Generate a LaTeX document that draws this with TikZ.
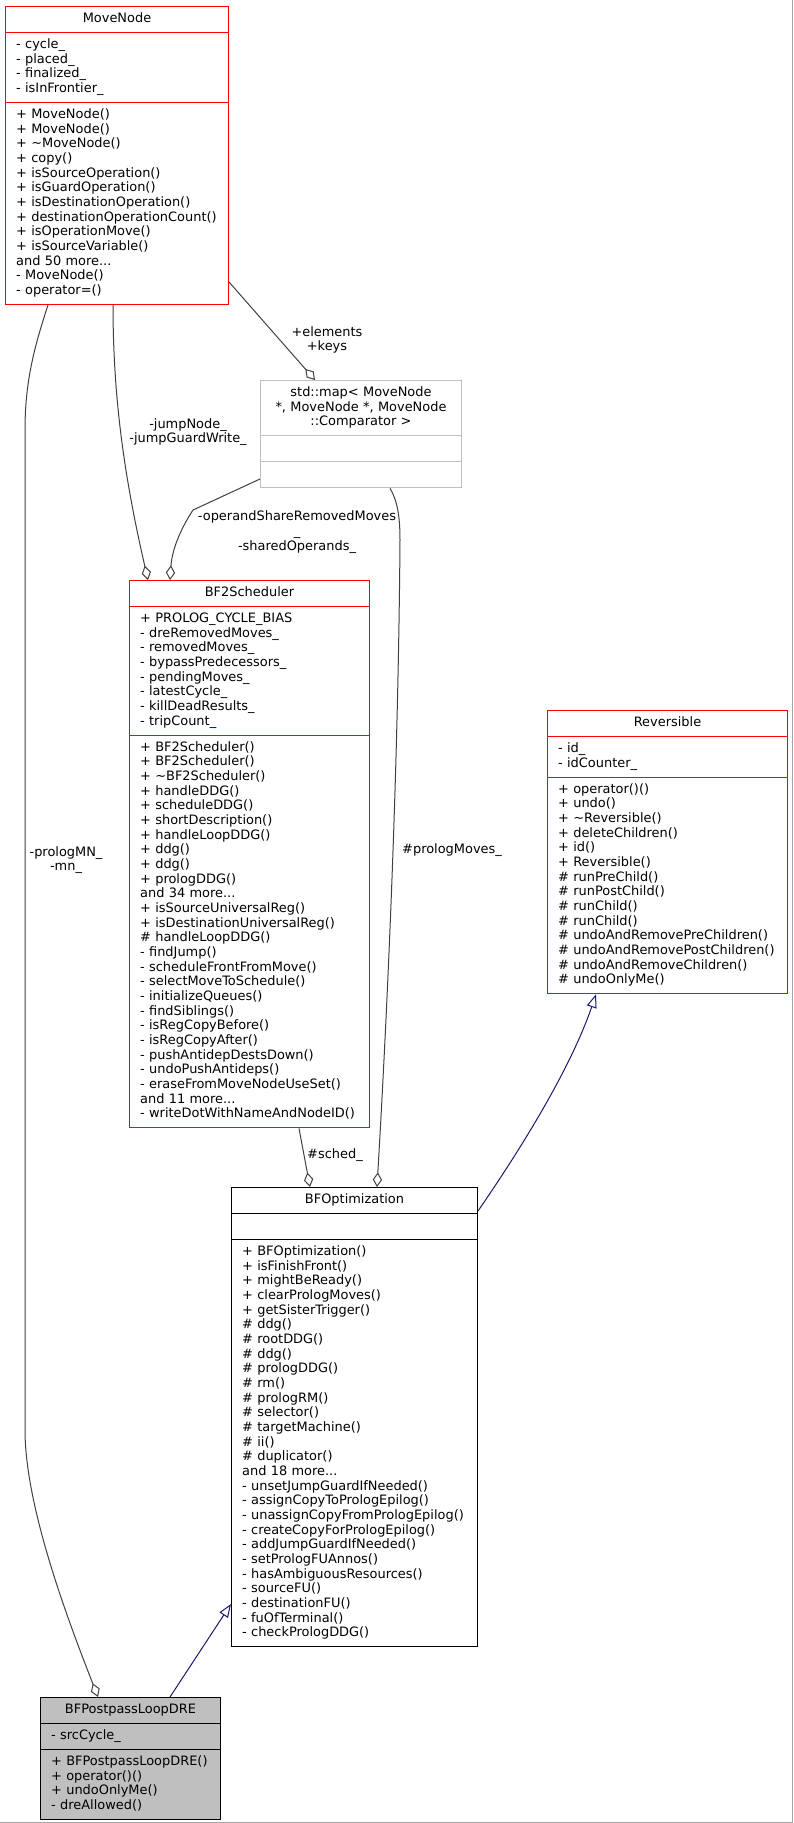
\documentclass[tikz,border=0pt]{standalone}
\usepackage{fontspec}
\setmainfont{DejaVu Sans}
\usetikzlibrary{shapes.multipart, arrows.meta}
\definecolor{grey25}{HTML}{404040}
\definecolor{grey75}{HTML}{BFBFBF}
\definecolor{midblue}{HTML}{191970}
\newcommand{\umlfont}{\fontsize{9.7}{11}\selectfont}

\begin{document}
\begin{tikzpicture}[x=0.75pt,y=-0.75pt,
    umlclass/.style={rectangle split, rectangle split parts=3, draw=red, line width=0.75pt,
      anchor=north west, inner xsep=8pt, inner ysep=3.875pt, font=\umlfont},
    uses/.style={draw=grey25, line width=0.75pt, -{Diamond[open,length=11pt,width=7pt]}},
    inherits/.style={draw=midblue, line width=0.75pt, -{Triangle[open,length=10pt,width=7.5pt]}},
    lbl/.style={align=center, font=\umlfont, inner sep=0pt}]
  \useasboundingbox (0,0) rectangle (793,1823);

  \node[umlclass, text width=151.25pt] (movenode) at (5,6)
    {\centering\strut MoveNode\strut\par
     \nodepart{two}\raggedright\strut - cycle\_\\- placed\_\\- finalized\_\\- isInFrontier\_\strut\par
     \nodepart{three}\raggedright\strut + MoveNode()\\+ MoveNode()\\+ \textasciitilde MoveNode()\\+ copy()\\
     + isSourceOperation()\\+ isGuardOperation()\\+ isDestinationOperation()\\
     + destinationOperationCount()\\+ isOperationMove()\\+ isSourceVariable()\\
     and 50 more...\\- MoveNode()\\- operator=()\strut\par};

  \node[umlclass, draw=grey75, inner xsep=3pt, text width=144.75pt] (stdmap) at (260,380)
    {\centering\strut std::map< MoveNode\\{}*, MoveNode *, MoveNode\\::Comparator >\strut\par
     \nodepart{two}\strut
     \nodepart{three}\strut};

  \node[umlclass, text width=164pt] (bftwo) at (129,580)
    {\centering\strut BF2Scheduler\strut\par
     \nodepart{two}\raggedright\strut + PROLOG\_CYCLE\_BIAS\\- dreRemovedMoves\_\\- removedMoves\_\\
     - bypassPredecessors\_\\- pendingMoves\_\\- latestCycle\_\\- killDeadResults\_\\
     - tripCount\_\strut\par
     \nodepart{three}\raggedright\strut + BF2Scheduler()\\+ BF2Scheduler()\\+ \textasciitilde BF2Scheduler()\\
     + handleDDG()\\+ scheduleDDG()\\+ shortDescription()\\+ handleLoopDDG()\\+ ddg()\\+ ddg()\\
     + prologDDG()\\and 34 more...\\+ isSourceUniversalReg()\\+ isDestinationUniversalReg()\\
     \# handleLoopDDG()\\- findJump()\\- scheduleFrontFromMove()\\- selectMoveToSchedule()\\
     - initializeQueues()\\- findSiblings()\\- isRegCopyBefore()\\- isRegCopyAfter()\\
     - pushAntidepDestsDown()\\- undoPushAntideps()\\- eraseFromMoveNodeUseSet()\\
     and 11 more...\\- writeDotWithNameAndNodeID()\strut\par};

  \node[umlclass, text width=164pt] (reversible) at (547,710)
    {\centering\strut Reversible\strut\par
     \nodepart{two}\raggedright\strut - id\_\\- idCounter\_\strut\par
     \nodepart{three}\raggedright\strut + operator()()\\+ undo()\\+ \textasciitilde Reversible()\\
     + deleteChildren()\\+ id()\\+ Reversible()\\\# runPreChild()\\\# runPostChild()\\
     \# runChild()\\\# runChild()\\\# undoAndRemovePreChildren()\\
     \# undoAndRemovePostChildren()\\\# undoAndRemoveChildren()\\\# undoOnlyMe()\strut\par};

  \node[umlclass, draw=black, text width=168.5pt] (bfopt) at (231,1187)
    {\centering\strut BFOptimization\strut\par
     \nodepart{two}\strut
     \nodepart{three}\raggedright\strut + BFOptimization()\\+ isFinishFront()\\+ mightBeReady()\\
     + clearPrologMoves()\\+ getSisterTrigger()\\\# ddg()\\\# rootDDG()\\\# ddg()\\
     \# prologDDG()\\\# rm()\\\# prologRM()\\\# selector()\\\# targetMachine()\\\# ii()\\
     \# duplicator()\\and 18 more...\\- unsetJumpGuardIfNeeded()\\- assignCopyToPrologEpilog()\\
     - unassignCopyFromPrologEpilog()\\- createCopyForPrologEpilog()\\- addJumpGuardIfNeeded()\\
     - setPrologFUAnnos()\\- hasAmbiguousResources()\\- sourceFU()\\- destinationFU()\\
     - fuOfTerminal()\\- checkPrologDDG()\strut\par};

  \node[umlclass, draw=black, fill=grey75, text width=119pt] (bfpost) at (40,1697)
    {\centering\strut BFPostpassLoopDRE\strut\par
     \nodepart{two}\raggedright\strut - srcCycle\_\strut\par
     \nodepart{three}\raggedright\strut + BFPostpassLoopDRE()\\+ operator()()\\+ undoOnlyMe()\\
     - dreAllowed()\strut\par};

  % usage links
  \draw[uses] (movenode.east |- 0,282) -- (stdmap.north -| 315,0);
  \draw[uses] (movenode.south -| 113,0) .. controls (113,400) and (125,480) .. (bftwo.north -| 148,0);
  \draw[uses] (stdmap.west |- 0,479) -- (193,510) .. controls (180,530) and (172,550) .. (bftwo.north -| 170,0);
  \draw[uses] (stdmap.south -| 390,0) .. controls (397,500) and (400,515) .. (400,540)
    .. controls (398,800) and (385,1050) .. (bfopt.north -| 377,0);
  \draw[uses] (bftwo.south -| 299,0) -- (bfopt.north -| 310,0);
  \draw[uses] (movenode.south -| 48,0) .. controls (35,345) and (25,380) .. (25,430) -- (25,1430)
    .. controls (25,1510) and (72,1630) .. (bfpost.north -| 98,0);

  % inheritance
  \draw[inherits] (bfopt.east |- 0,1211) .. controls (520,1150) and (570,1070) .. (reversible.south -| 596,0);
  \draw[inherits] (bfpost.north -| 170,0) -- (bfopt.west |- 0,1604);

  \node[lbl] (lblelements) at (327,340) {+elements\\+keys};
  \node[lbl] (lbljump) at (188,432) {-jumpNode\_\\-jumpGuardWrite\_};
  \node[lbl] (lbloperand) at (297,532) {-operandShareRemovedMoves\\\_\\-sharedOperands\_};
  \node[lbl] (lblprolog) at (452,850) {\#prologMoves\_};
  \node[lbl] (lblsched) at (335,1155) {\#sched\_};
  \node[lbl] (lblmn) at (66,860) {-prologMN\_\\-mn\_};

  \draw[gray!70, line width=0.75pt] (0,1822.5) -- (792.5,1822.5) -- (792.5,0);
\end{tikzpicture}
\end{document}
